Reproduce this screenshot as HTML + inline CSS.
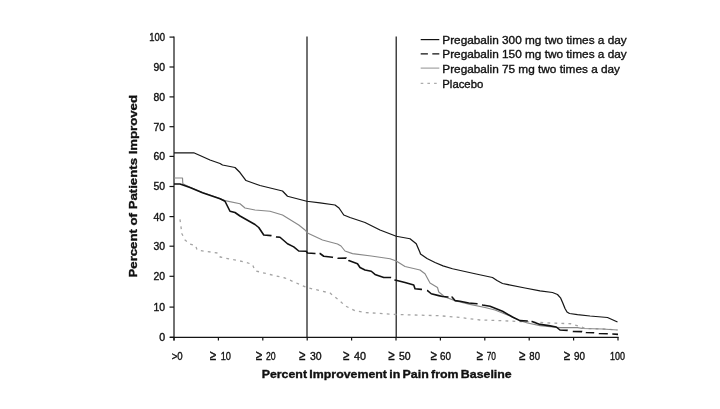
<!DOCTYPE html>
<html lang="en">
<head>
<meta charset="utf-8">
<title>Percent of Patients Improved</title>
<style>
html,body{margin:0;padding:0;background:#fff;}
body{width:720px;height:409px;overflow:hidden;}
svg{display:block;}
text{font-family:"Liberation Sans",Arial,sans-serif;fill:#111;stroke:#111;stroke-width:0.35px;}
.b{font-weight:bold;}
</style>
</head>
<body>
<svg width="720" height="409" viewBox="0 0 720 409">
<rect width="720" height="409" fill="#ffffff"/>

<g stroke="#141414" stroke-width="1.2" fill="none">
<line x1="174" y1="36.5" x2="174" y2="340.6"/>
<line x1="170" y1="337.3" x2="618.6" y2="337.3"/>
<line x1="169.5" y1="337.30" x2="174" y2="337.30"/>
<line x1="169.5" y1="307.10" x2="174" y2="307.10"/>
<line x1="169.5" y1="276.30" x2="174" y2="276.30"/>
<line x1="169.5" y1="246.20" x2="174" y2="246.20"/>
<line x1="169.5" y1="216.60" x2="174" y2="216.60"/>
<line x1="169.5" y1="186.50" x2="174" y2="186.50"/>
<line x1="169.5" y1="156.40" x2="174" y2="156.40"/>
<line x1="169.5" y1="126.70" x2="174" y2="126.70"/>
<line x1="169.5" y1="96.90" x2="174" y2="96.90"/>
<line x1="169.5" y1="67.00" x2="174" y2="67.00"/>
<line x1="169.5" y1="37.10" x2="174" y2="37.10"/>
<line x1="174.00" y1="337.3" x2="174.00" y2="340.6"/>
<line x1="218.40" y1="337.3" x2="218.40" y2="340.6"/>
<line x1="262.80" y1="337.3" x2="262.80" y2="340.6"/>
<line x1="307.20" y1="337.3" x2="307.20" y2="340.6"/>
<line x1="351.60" y1="337.3" x2="351.60" y2="340.6"/>
<line x1="396.00" y1="337.3" x2="396.00" y2="340.6"/>
<line x1="440.40" y1="337.3" x2="440.40" y2="340.6"/>
<line x1="484.80" y1="337.3" x2="484.80" y2="340.6"/>
<line x1="529.20" y1="337.3" x2="529.20" y2="340.6"/>
<line x1="573.60" y1="337.3" x2="573.60" y2="340.6"/>
<line x1="618.00" y1="337.3" x2="618.00" y2="340.6"/>
<line x1="307" y1="36.5" x2="307" y2="337.3"/>
<line x1="396.2" y1="36.5" x2="396.2" y2="337.3"/>
</g>
<g font-size="10.5" text-anchor="end">
<text x="165.1" y="341.25" textLength="5.9" lengthAdjust="spacingAndGlyphs">0</text>
<text x="165.1" y="311.05" textLength="11.6" lengthAdjust="spacingAndGlyphs">10</text>
<text x="165.1" y="280.25" textLength="11.6" lengthAdjust="spacingAndGlyphs">20</text>
<text x="165.1" y="250.15" textLength="11.6" lengthAdjust="spacingAndGlyphs">30</text>
<text x="165.1" y="220.55" textLength="11.6" lengthAdjust="spacingAndGlyphs">40</text>
<text x="165.1" y="190.45" textLength="11.6" lengthAdjust="spacingAndGlyphs">50</text>
<text x="165.1" y="160.35" textLength="11.6" lengthAdjust="spacingAndGlyphs">60</text>
<text x="165.1" y="130.65" textLength="11.6" lengthAdjust="spacingAndGlyphs">70</text>
<text x="165.1" y="100.85" textLength="11.6" lengthAdjust="spacingAndGlyphs">80</text>
<text x="165.1" y="70.95" textLength="11.6" lengthAdjust="spacingAndGlyphs">90</text>
<text x="165.1" y="41.05" textLength="15.8" lengthAdjust="spacingAndGlyphs">100</text>
</g>
<g font-size="10.5">
<text x="171.7" y="359.5" textLength="11.0" lengthAdjust="spacingAndGlyphs">>0</text>
<text x="210.0" y="359.5"><tspan font-size="14" textLength="6.3" lengthAdjust="spacingAndGlyphs">≥</tspan><tspan x="220.7" textLength="10.3" lengthAdjust="spacingAndGlyphs">10</tspan></text>
<text x="256.0" y="359.5"><tspan font-size="14" textLength="6.3" lengthAdjust="spacingAndGlyphs">≥</tspan><tspan x="266.0" textLength="9.7" lengthAdjust="spacingAndGlyphs">20</tspan></text>
<text x="299.3" y="359.5"><tspan font-size="14" textLength="6.3" lengthAdjust="spacingAndGlyphs">≥</tspan><tspan x="310.0" textLength="11.7" lengthAdjust="spacingAndGlyphs">30</tspan></text>
<text x="343.3" y="359.5"><tspan font-size="14" textLength="6.3" lengthAdjust="spacingAndGlyphs">≥</tspan><tspan x="354.0" textLength="12.0" lengthAdjust="spacingAndGlyphs">40</tspan></text>
<text x="388.6" y="359.5"><tspan font-size="14" textLength="6.3" lengthAdjust="spacingAndGlyphs">≥</tspan><tspan x="399.0" textLength="11.7" lengthAdjust="spacingAndGlyphs">50</tspan></text>
<text x="430.7" y="359.5"><tspan font-size="14" textLength="6.3" lengthAdjust="spacingAndGlyphs">≥</tspan><tspan x="440.0" textLength="11.0" lengthAdjust="spacingAndGlyphs">60</tspan></text>
<text x="476.7" y="359.5"><tspan font-size="14" textLength="6.3" lengthAdjust="spacingAndGlyphs">≥</tspan><tspan x="486.7" textLength="9.3" lengthAdjust="spacingAndGlyphs">70</tspan></text>
<text x="519.3" y="359.5"><tspan font-size="14" textLength="6.3" lengthAdjust="spacingAndGlyphs">≥</tspan><tspan x="529.3" textLength="10.7" lengthAdjust="spacingAndGlyphs">80</tspan></text>
<text x="564.0" y="359.5"><tspan font-size="14" textLength="6.3" lengthAdjust="spacingAndGlyphs">≥</tspan><tspan x="574.0" textLength="11.0" lengthAdjust="spacingAndGlyphs">90</tspan></text>
<text x="610.0" y="359.5" textLength="15.0" lengthAdjust="spacingAndGlyphs">100</text>
</g>
<text class="b" font-size="11.2" x="261.7" y="378.3" textLength="250" lengthAdjust="spacingAndGlyphs" word-spacing="-1">Percent Improvement in Pain from Baseline</text>
<text class="b" font-size="11.2" transform="translate(137.3 277.5) rotate(-90)" textLength="182.5" lengthAdjust="spacingAndGlyphs">Percent of Patients Improved</text>
<g fill="none" stroke-linejoin="round">
<path stroke="#a4a4a4" stroke-width="1.3" stroke-dasharray="2.8 4.2" d="M180.00 219.40 L181.90 233.75 L185.00 240.00 L190.00 244.00 L195.60 245.60 L197.00 249.75 L204.40 251.25 L212.50 252.25 L217.50 253.00 L219.40 256.00 L220.00 257.00 L245.00 262.00 L252.50 264.50 L255.00 270.75 L270.00 274.50 L285.00 278.00 L306.75 287.50 L330.00 293.00 L340.00 301.00 L345.00 305.75 L355.00 310.75 L365.00 312.50 L396.00 314.50 L415.00 315.00 L440.00 315.75 L460.00 317.50 L480.00 320.00 L500.00 320.60 L525.00 321.75 L550.00 323.00 L571.00 323.75 L580.00 326.50 L585.00 328.40 L602.50 329.00 L617.50 330.00"/>
<path stroke="#888" stroke-width="1.15" d="M174.00 178.00 L182.50 178.00 L182.80 183.75 L190.00 187.30 L202.50 192.50 L220.00 198.50 L225.00 200.60 L240.00 203.75 L245.00 208.00 L255.00 210.00 L270.00 211.25 L282.50 215.00 L298.75 225.00 L305.00 230.00 L307.50 233.00 L322.50 240.00 L337.50 244.00 L341.00 246.00 L345.00 251.00 L352.50 253.60 L371.25 256.00 L390.00 258.75 L396.25 261.00 L405.00 266.50 L420.00 270.00 L425.00 273.75 L430.00 283.00 L437.50 287.50 L438.75 292.00 L445.00 297.00 L455.00 300.60 L470.00 304.40 L485.00 307.50 L495.00 310.00 L510.00 316.00 L520.00 320.80 L527.50 323.00 L540.00 325.60 L552.50 327.00 L560.00 327.60 L577.50 327.60 L582.50 328.50 L602.50 329.00 L617.50 330.00"/>
<path stroke="#111" stroke-width="1.6" d="M174.00 184.00 L180.00 184.00 L190.00 187.50 L202.50 192.75 L220.00 198.75 L225.00 201.25 L227.50 206.25 L230.00 211.25 L235.00 212.50 L240.00 216.00 L255.00 224.50 L258.75 227.50 L263.75 235.00 L271.25 235.60 L271.50 235.66 M276.00 236.84 L276.25 236.90 L280.00 237.25 L287.50 243.75 L293.75 246.90 L298.75 251.00 L306.25 251.25 L307.50 253.00 L315.00 253.50 L315.50 253.50 M319.50 253.50 L320.00 253.50 L323.75 256.25 L332.50 257.25 L333.00 257.35 M337.50 258.20 L338.00 258.30 L346.25 258.10 L346.40 258.25 M348.40 260.25 L348.75 260.60 L357.50 263.75 L360.00 267.50 L365.00 270.00 L371.25 271.25 L375.00 274.40 L383.75 277.50 L390.60 277.50 L391.00 277.73 M394.50 279.72 L395.00 280.00 L405.00 282.50 L413.75 285.00 L415.00 288.75 L421.25 289.40 L422.00 289.54 M427.00 290.50 L427.50 290.60 L431.25 293.75 L438.75 295.60 L442.50 296.50 L448.00 297.00 L448.50 297.00 M451.50 297.00 L452.00 297.00 L455.00 300.60 L460.00 301.25 L468.75 303.00 L477.00 303.75 L477.50 303.86 M482.00 304.89 L482.50 305.00 L490.00 306.25 L502.50 311.25 L512.50 317.00 L520.00 320.60 L527.50 321.00 L527.80 321.03 M531.50 321.44 L532.00 321.50 L540.00 324.40 L548.75 325.60 L556.25 327.00 L560.00 330.00 L567.50 330.40 L567.70 330.44 M572.80 331.36 L573.00 331.40 L582.00 331.60 L582.20 331.65 M585.80 332.45 L586.00 332.50 L594.00 332.75 L594.20 332.78 M598.80 333.47 L599.00 333.50 L607.50 333.75 L607.80 333.76 M612.30 333.99 L612.50 334.00 L618.00 334.40"/>
<path stroke="#161616" stroke-width="1.25" d="M174.00 152.75 L193.75 152.75 L200.00 155.50 L210.00 160.00 L220.00 163.50 L222.50 165.00 L235.00 167.50 L240.00 172.50 L246.00 180.50 L255.00 183.75 L260.00 185.50 L282.50 191.00 L287.50 196.25 L306.75 201.25 L320.00 202.80 L335.00 205.00 L339.00 208.00 L343.75 215.00 L350.00 217.50 L365.00 222.50 L380.00 230.00 L396.25 236.25 L410.00 238.75 L416.25 243.75 L420.00 252.50 L420.50 254.00 L427.00 258.50 L435.00 262.50 L443.00 265.80 L452.50 268.75 L475.00 273.75 L492.50 277.50 L497.00 280.50 L502.50 283.50 L525.00 288.00 L540.00 290.80 L552.50 292.50 L557.50 294.50 L560.50 297.80 L563.00 303.50 L565.00 308.50 L567.00 312.00 L569.50 313.50 L577.50 314.60 L590.00 316.00 L607.50 317.50 L617.50 322.00"/>
</g>
<g fill="none">
<line x1="420.7" y1="39.6" x2="439.3" y2="39.6" stroke="#111" stroke-width="1.2"/>
<line x1="420.7" y1="53.9" x2="439.3" y2="53.9" stroke="#111" stroke-width="1.4" stroke-dasharray="7.2 4.4"/>
<line x1="420.7" y1="68.1" x2="439.3" y2="68.1" stroke="#909090" stroke-width="1"/>
<line x1="420.7" y1="83.4" x2="439.3" y2="83.4" stroke="#acacac" stroke-width="1.3" stroke-dasharray="2.6 4.1"/>
</g>
<g font-size="11.2">
<text x="442.3" y="44" textLength="184.4" lengthAdjust="spacingAndGlyphs">Pregabalin 300 mg two times a day</text>
<text x="442.3" y="58.3" textLength="184.4" lengthAdjust="spacingAndGlyphs">Pregabalin 150 mg two times a day</text>
<text x="442.3" y="72.5" textLength="177.7" lengthAdjust="spacingAndGlyphs">Pregabalin 75 mg two times a day</text>
<text x="442.3" y="88.3" textLength="41" lengthAdjust="spacingAndGlyphs">Placebo</text>
</g>
</svg>
</body>
</html>
